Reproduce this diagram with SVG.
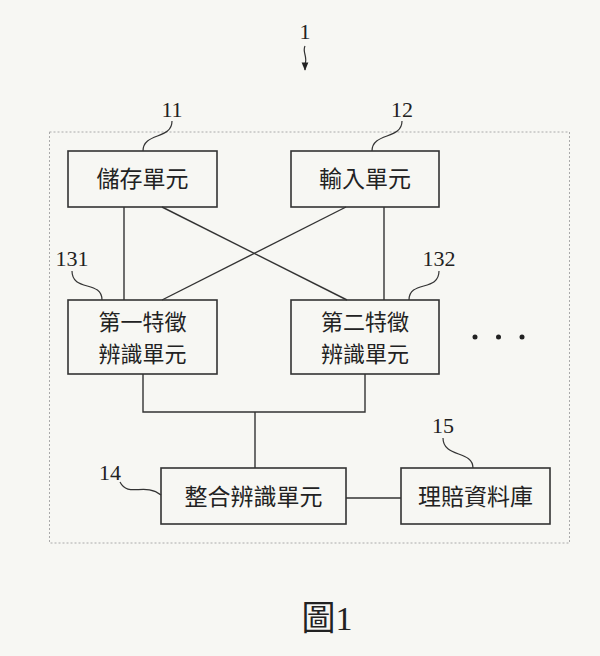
<svg xmlns="http://www.w3.org/2000/svg" width="600" height="656" viewBox="0 0 600 656">
<defs>
<style>
.box{fill:none;stroke:#333;stroke-width:1.6}
.ln{fill:none;stroke:#333;stroke-width:1.4}
.ld{fill:none;stroke:#333;stroke-width:1.2}
.cjk{font-family:"Noto Sans CJK TC","Noto Sans CJK SC",sans-serif;font-size:23px;fill:#222;text-anchor:middle}
.cjk2{font-family:"Noto Sans CJK TC","Noto Sans CJK SC",sans-serif;font-size:22px;fill:#222;text-anchor:middle}
.num{font-family:"Liberation Serif",serif;font-size:22px;fill:#222;text-anchor:middle}
</style>
<marker id="ah" viewBox="0 0 10 10" refX="9" refY="5" markerWidth="7" markerHeight="7" orient="auto"><path d="M0,1 L10,5 L0,9 Z" fill="#222"/></marker>
</defs>
<rect width="600" height="656" fill="#f7f7f3"/>
<rect x="49.5" y="132" width="520" height="411" fill="none" stroke="#aaa" stroke-width="1" stroke-dasharray="2,2"/>
<g id="connectors">
<line class="ln" x1="124" y1="207" x2="124" y2="300"/>
<line class="ln" x1="384" y1="207" x2="384" y2="300"/>
<line class="ln" x1="162" y1="207" x2="347" y2="300"/>
<line class="ln" x1="346" y1="207" x2="162" y2="300"/>
<polyline class="ln" points="143,374 143,412 365,412 365,374"/>
<line class="ln" x1="255" y1="412" x2="255" y2="468"/>
<line class="ln" x1="346" y1="498" x2="401" y2="498"/>
</g>
<g id="label1">
<text class="num" x="305" y="39">1</text>
<path class="ld" d="M305,46 C302,52 308,57 305,64 L305,70" marker-end="url(#ah)"/>
</g>
<g id="n11">
<rect class="box" x="68" y="151" width="149" height="56"/>
<text class="cjk" x="142.5" y="187">儲存單元</text>
<text class="num" x="172" y="117">11</text>
<path class="ld" d="M172,121 C172,140 143,132 143,151"/>
</g>
<g id="n12">
<rect class="box" x="291" y="151" width="148" height="56"/>
<text class="cjk" x="365" y="187">輸入單元</text>
<text class="num" x="402" y="117">12</text>
<path class="ld" d="M402,121 C402,140 372,132 372,151"/>
</g>
<g id="n131">
<rect class="box" x="68" y="300" width="149" height="74"/>
<text class="cjk2" x="142.5" y="330">第一特徵</text>
<text class="cjk2" x="142.5" y="362">辨識單元</text>
<text class="num" x="72" y="266">131</text>
<path class="ld" d="M72,271 C72,292 102,280 102,300"/>
</g>
<g id="n132">
<rect class="box" x="291" y="300" width="148" height="74"/>
<text class="cjk2" x="365" y="330">第二特徵</text>
<text class="cjk2" x="365" y="362">辨識單元</text>
<text class="num" x="439" y="266">132</text>
<path class="ld" d="M439,271 C439,292 409,280 409,300"/>
</g>
<g id="dots" fill="#222">
<circle cx="475" cy="337" r="2.5"/>
<circle cx="498.5" cy="337" r="2.5"/>
<circle cx="522" cy="337" r="2.5"/>
</g>
<g id="n14">
<rect class="box" x="161" y="468" width="185" height="56"/>
<text class="cjk" x="253.5" y="505">整合辨識單元</text>
<text class="num" x="110" y="480">14</text>
<path class="ld" d="M120,482 C128,498 145,482 161,495"/>
</g>
<g id="n15">
<rect class="box" x="401" y="468" width="149" height="56"/>
<text class="cjk" x="475.5" y="505">理賠資料庫</text>
<text class="num" x="443" y="433">15</text>
<path class="ld" d="M443,438 C443,458 473,450 473,468"/>
</g>
<g id="caption">
<text x="327" y="630" style="font-family:'Liberation Serif','Noto Sans CJK TC',serif;font-size:34px;fill:#222;text-anchor:middle">圖1</text>
</g>
</svg>
